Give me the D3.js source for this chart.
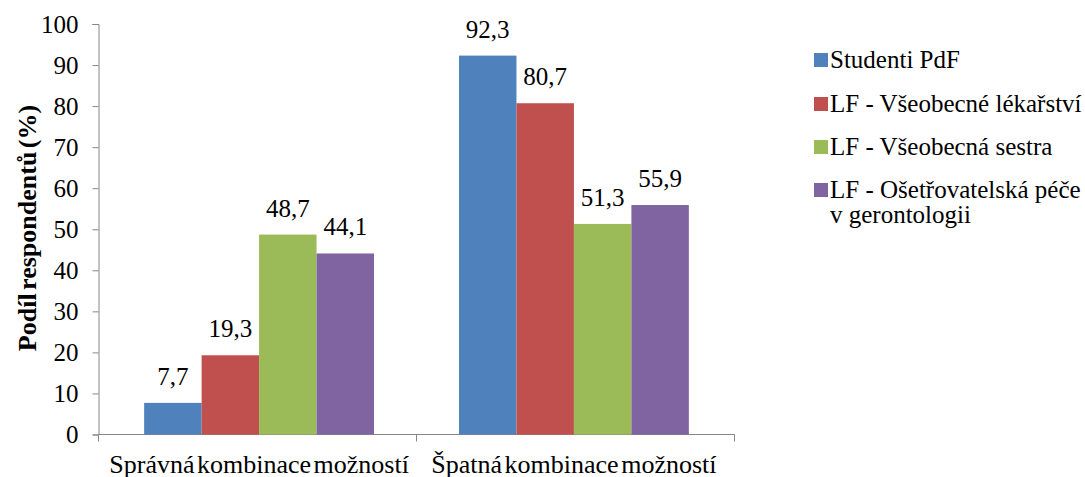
<!DOCTYPE html>
<html><head><meta charset="utf-8">
<script src="https://cdn.jsdelivr.net/npm/d3@7"></script>
<style>body{margin:0;background:#fff}svg{display:block}
svg text{font-family:"Liberation Serif","Times New Roman","DejaVu Serif",serif !important}</style>
</head><body>
<svg id="c" width="1085" height="477"></svg>
<script>
const categories = ["Správná kombinace možností", "Špatná kombinace možností"];
const seriesNames = ["Studenti PdF", "LF - Všeobecné lékařství", "LF - Všeobecná sestra", "LF - Ošetřovatelská péče v gerontologii"];
const studentiPdF = [7.7, 92.3];
const vseobecneLekarstvi = [19.3, 80.7];
const vseobecnaSestra = [48.7, 51.3];
const osetrovatelskaPece = [44.1, 55.9];
const yTicks = [0,10,20,30,40,50,60,70,80,90,100];
const colors = ["#4F81BD", "#C0504D", "#9BBB59", "#8064A2"];

(function(){
const series = [studentiPdF, vseobecneLekarstvi, vseobecnaSestra, osetrovatelskaPece];
const svg = d3.select("#c");
const mLeft = 98.5, mRight = 734.5, mTop = 24, mBottom = 434.5;

const y = d3.scaleLinear().domain([0,100]).range([mBottom, mTop]);
const x0 = d3.scaleBand().domain(categories).range([mLeft, mRight]).paddingInner(0.27).paddingOuter(0.145);
const x1 = d3.scaleBand().domain(d3.range(4)).range([0, x0.bandwidth()]);

const ya = svg.append("g").attr("transform", `translate(${mLeft},0)`)
  .call(d3.axisLeft(y).tickValues(yTicks).tickSize(6).tickSizeOuter(6).tickPadding(14).tickFormat(d3.format("d")));
ya.selectAll("path,line").attr("stroke", "#868686");
ya.selectAll("text").attr("font-size", 25).attr("fill", "#000");

const xa = svg.append("g").attr("transform", `translate(0,${mBottom})`);
xa.append("line").attr("x1", mLeft).attr("x2", mRight).attr("stroke", "#868686");
const bounds = [mLeft, (x0(categories[0]) + x0.bandwidth() + x0(categories[1]))/2, mRight];
xa.selectAll("line.t").data(bounds).join("line").attr("class","t")
  .attr("x1", d=>d).attr("x2", d=>d).attr("y1", 0).attr("y2", 7).attr("stroke", "#868686");
xa.selectAll("text").data(categories).join("text")
  .attr("x", d => x0(d) + x0.bandwidth()/2).attr("y", 38)
  .attr("text-anchor", "middle").attr("font-size", 26).attr("word-spacing", -4)
  .text(d=>d);

const g = svg.append("g");
series.forEach((vals, si) => {
  g.selectAll(null).data(vals).join("rect")
    .attr("x", (d,i) => x0(categories[i]) + x1(si))
    .attr("y", d => y(d)).attr("width", x1.bandwidth()).attr("height", d => mBottom - y(d))
    .attr("fill", colors[si]);
  g.selectAll(null).data(vals).join("text")
    .attr("x", (d,i) => x0(categories[i]) + x1(si) + x1.bandwidth()/2)
    .attr("y", d => y(d) - 18)
    .attr("text-anchor", "middle").attr("font-size", 25)
    .text(d => d3.format(".1f")(d).replace(".", ","));
});

svg.append("text").attr("transform", `translate(36,228) rotate(-90)`)
  .attr("text-anchor", "middle").attr("font-size", 26).attr("font-weight", "bold").attr("word-spacing", -3)
  .text("Podíl respondentů (%)");

const legY = [60, 104, 147, 190];
const lg = svg.append("g");
seriesNames.forEach((n, i) => {
  lg.append("rect").attr("x", 814).attr("y", legY[i]-7).attr("width", 14).attr("height", 14).attr("fill", colors[i]);
  const t = lg.append("text").attr("x", 830).attr("y", legY[i]+8).attr("font-size", 25);
  if (i === 3) {
    t.append("tspan").text("LF - Ošetřovatelská péče");
    t.append("tspan").attr("x", 830).attr("dy", 25).text("v gerontologii");
  } else t.text(n);
});
})();
</script>
</body></html>
